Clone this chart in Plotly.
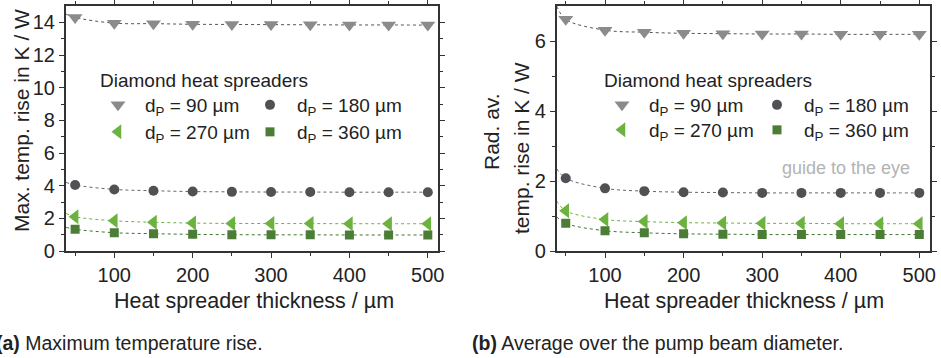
import plotly.graph_objects as go

# ---------------- data ----------------
thickness = [50, 100, 150, 200, 250, 300, 350, 400, 450, 500]
edge_x = 38.5  # left edge where the guide curves start

# (a) maximum temperature rise, K/W
a_90 = [14.3, 13.95, 13.92, 13.88, 13.87, 13.86, 13.85, 13.84, 13.84, 13.83]
a_180 = [4.04, 3.77, 3.69, 3.64, 3.62, 3.61, 3.61, 3.60, 3.60, 3.60]
a_270 = [2.10, 1.85, 1.76, 1.71, 1.69, 1.68, 1.68, 1.67, 1.67, 1.67]
a_360 = [1.33, 1.12, 1.06, 1.02, 1.00, 0.99, 0.99, 0.98, 0.98, 0.98]
a_edge = [14.5, 4.2, 2.3, 1.45]

# (b) radially averaged temperature rise, K/W
b_90 = [6.62, 6.31, 6.25, 6.22, 6.21, 6.20, 6.20, 6.19, 6.19, 6.19]
b_180 = [2.08, 1.79, 1.71, 1.68, 1.67, 1.66, 1.66, 1.66, 1.66, 1.66]
b_270 = [1.15, 0.90, 0.84, 0.81, 0.80, 0.79, 0.79, 0.78, 0.78, 0.78]
b_360 = [0.79, 0.58, 0.52, 0.49, 0.48, 0.47, 0.47, 0.47, 0.47, 0.47]
b_edge = [7.0, 2.35, 1.43, 0.98]

labels = ["d<sub>P</sub> = 90 µm", "d<sub>P</sub> = 180 µm",
          "d<sub>P</sub> = 270 µm", "d<sub>P</sub> = 360 µm"]
symbols = ["triangle-down", "circle", "triangle-left", "square"]
sizes = [13, 10, 13, 9]
marker_colors = ["#8b8b8d", "#505155", "#6cb23f", "#4b7d36"]
line_colors = ["#555555", "#666666", "#6cb23f", "#3f7430"]

W, H = 941, 358
FONT = "Liberation Sans, Arial, sans-serif"
TXT = "#222222"


def px(x):
    return x / W


def py(y):
    return 1 - y / H


fig = go.Figure()

panels = [
    ("x", "y", [a_90, a_180, a_270, a_360], a_edge, ["legend", "legend2", "legend3", "legend4"]),
    ("x2", "y2", [b_90, b_180, b_270, b_360], b_edge, ["legend5", "legend6", "legend7", "legend8"]),
]

for xa, ya, series, edges, legs in panels:
    for i, vals in enumerate(series):
        # guide to the eye
        fig.add_trace(go.Scatter(
            x=[edge_x] + thickness, y=[edges[i]] + vals, xaxis=xa, yaxis=ya,
            mode="lines", line=dict(color=line_colors[i], width=1, dash="dot", shape="spline", smoothing=1.0),
            showlegend=False, hoverinfo="skip"))
    for i, vals in enumerate(series):
        fig.add_trace(go.Scatter(
            x=thickness, y=vals, xaxis=xa, yaxis=ya, mode="markers",
            marker=dict(symbol=symbols[i], size=sizes[i], color=marker_colors[i], line=dict(width=0)),
            name=labels[i], legend=legs[i], showlegend=True))

axis_common = dict(
    showline=True, linecolor="#333333", linewidth=1.5, mirror="allticks",
    ticks="outside", ticklen=5, tickwidth=1.2, tickcolor="#333333",
    showgrid=False, zeroline=False,
    tickfont=dict(family=FONT, size=20, color=TXT),
)

xdomA = [px(65.7), px(438)]
xdomB = [px(556.7), px(930)]
ydom = [py(251), py(6)]

fig.update_layout(
    width=W, height=H, margin=dict(l=0, r=0, t=0, b=0, autoexpand=False),
    paper_bgcolor="white", plot_bgcolor="white",
    font=dict(family=FONT, size=19, color=TXT),
    xaxis=dict(domain=xdomA, anchor="y", range=[38, 513], tickvals=[100, 200, 300, 400, 500],
               minor=dict(tickvals=[50, 150, 250, 350, 450], ticklen=3, tickcolor="#333333", ticks="outside"),
               **axis_common),
    yaxis=dict(domain=ydom, anchor="x", range=[0, 15], tickvals=[0, 2, 4, 6, 8, 10, 12, 14],
               minor=dict(tickvals=[1, 3, 5, 7, 9, 11, 13], ticklen=3, tickcolor="#333333", ticks="outside"),
               **axis_common),
    xaxis2=dict(domain=xdomB, anchor="y2", range=[38.5, 513.6], tickvals=[100, 200, 300, 400, 500],
                minor=dict(tickvals=[50, 150, 250, 350, 450], ticklen=3, tickcolor="#333333", ticks="outside"),
                **axis_common),
    yaxis2=dict(domain=ydom, anchor="x2", range=[0, 7], tickvals=[0, 2, 4, 6],
                minor=dict(tickvals=[1, 3, 5], ticklen=3, tickcolor="#333333", ticks="outside"),
                **axis_common),
    showlegend=True,
)

leg_common = dict(orientation="v", bgcolor="rgba(0,0,0,0)", borderwidth=0,
                  font=dict(family=FONT, size=19, color=TXT), itemwidth=44,
                  xanchor="left", yanchor="middle", itemclick=False, itemdoubleclick=False)

# legend entry anchor positions (px): symbol centre is ~27 px right of the anchor
fig.update_layout(
    legend=dict(x=px(91), y=py(105), **leg_common),
    legend2=dict(x=px(243), y=py(105), **leg_common),
    legend3=dict(x=px(91), y=py(132), **leg_common),
    legend4=dict(x=px(243), y=py(132), **leg_common),
    legend5=dict(x=px(595), y=py(105), **leg_common),
    legend6=dict(x=px(750), y=py(105), **leg_common),
    legend7=dict(x=px(595), y=py(130), **leg_common),
    legend8=dict(x=px(750), y=py(130), **leg_common),
)

ann = []
# legend titles
ann.append(dict(text="Diamond heat spreaders", x=px(98), y=py(80), xref="paper", yref="paper",
                showarrow=False, font=dict(size=19), xanchor="left", yanchor="middle"))
ann.append(dict(text="Diamond heat spreaders", x=px(602), y=py(80), xref="paper", yref="paper",
                showarrow=False, font=dict(size=19), xanchor="left", yanchor="middle"))
# axis titles
ann.append(dict(text="Heat spreader thickness / µm", x=px(254), y=py(301), xref="paper", yref="paper",
                showarrow=False, font=dict(size=21.5), xanchor="center", yanchor="middle"))
ann.append(dict(text="Heat spreader thickness / µm", x=px(744), y=py(301), xref="paper", yref="paper",
                showarrow=False, font=dict(size=21.5), xanchor="center", yanchor="middle"))
ann.append(dict(text="Max. temp. rise in K / W", x=px(21), y=py(121), xref="paper", yref="paper",
                showarrow=False, font=dict(size=21), textangle=-90, xanchor="center", yanchor="middle"))
ann.append(dict(text="Rad. av.", x=px(492), y=py(132), xref="paper", yref="paper",
                showarrow=False, font=dict(size=21), textangle=-90, xanchor="center", yanchor="middle"))
ann.append(dict(text="temp. rise in K / W", x=px(521), y=py(148), xref="paper", yref="paper",
                showarrow=False, font=dict(size=21), textangle=-90, xanchor="center", yanchor="middle"))
# guide to the eye
ann.append(dict(text="guide to the eye", x=px(912), y=py(168), xref="paper", yref="paper",
                showarrow=False, font=dict(size=18, color="#b3b3b3"), xanchor="right", yanchor="middle"))
# captions
ann.append(dict(text="<b>(a)</b> Maximum temperature rise.", x=px(-6), y=py(343), xref="paper", yref="paper",
                showarrow=False, font=dict(size=19.5), xanchor="left", yanchor="middle"))
ann.append(dict(text="<b>(b)</b> Average over the pump beam diameter.", x=px(470), y=py(343), xref="paper",
                yref="paper", showarrow=False, font=dict(size=19.5), xanchor="left", yanchor="middle"))
fig.update_layout(annotations=ann)

fig.write_html("out.html")
